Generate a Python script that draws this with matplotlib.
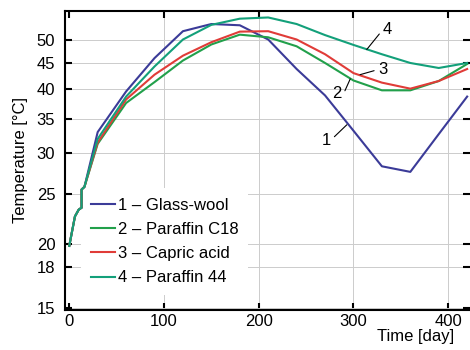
import matplotlib
matplotlib.use("Agg")
import matplotlib.pyplot as plt
from matplotlib.ticker import FixedLocator, NullLocator, FixedFormatter

plt.rcParams['font.family'] = ['Liberation Sans', 'DejaVu Sans']
plt.rcParams['font.size'] = 12

# data (day, temperature in degC)
days = [0, 6, 10, 13, 13, 16, 30, 60, 90, 120, 150, 180, 210, 240, 270, 300, 330, 360, 390, 420]
glass_wool = [19.8, 22.6, 23.3, 23.5, 25.5, 25.8, 33.0, 39.6, 46.0, 51.9, 53.6, 53.3, 50.0,
              43.8, 38.9, 33.2, 28.3, 27.6, 32.7, 38.7]
paraffin_c18 = [19.8, 22.6, 23.3, 23.5, 25.5, 25.8, 31.3, 37.6, 41.3, 45.5, 48.9, 51.1, 50.5,
                48.5, 45.0, 41.6, 39.8, 39.8, 41.5, 44.8]
capric_acid = [19.8, 22.6, 23.3, 23.5, 25.5, 25.8, 31.5, 38.2, 42.7, 46.5, 49.4, 51.8, 51.9,
               50.0, 46.8, 43.0, 41.2, 40.1, 41.5, 43.8]
paraffin_44 = [19.8, 22.6, 23.3, 23.5, 25.5, 25.8, 32.0, 38.7, 44.3, 50.0, 53.4, 54.9, 55.2,
               53.6, 51.0, 48.8, 46.8, 45.0, 44.0, 45.0]

labels = ['1 – Glass-wool', '2 – Paraffin C18', '3 – Capric acid', '4 – Paraffin 44']
colors = ['#3b3b98', '#22a04b', '#e03c38', '#13a07a']
yticks = [15, 18, 20, 25, 30, 35, 40, 45, 50]
xticks = [0, 100, 200, 300, 400]

fig = plt.figure(figsize=(4.7, 3.5), dpi=100)
ax = fig.add_axes([0.1383, 0.1157, 0.8617, 0.8537])

series = [glass_wool, paraffin_c18, capric_acid, paraffin_44]
for vals, lab, col in zip(series, labels, colors):
    ax.plot(days, vals, color=col, lw=1.5, label=lab, zorder=3)

ax.set_yscale('log')
ax.set_xlim(-4.5, 423)
ax.set_ylim(14.88, 56.9)
ax.yaxis.set_major_locator(FixedLocator(yticks))
ax.yaxis.set_major_formatter(FixedFormatter([str(t) for t in yticks]))
ax.yaxis.set_minor_locator(NullLocator())
ax.set_xticks(xticks)

ax.grid(True, color='#cccccc', lw=0.7, zorder=0)
ax.xaxis.get_gridlines()[0].set_visible(False)

ax.spines['right'].set_visible(False)
for s in ['left', 'top', 'bottom']:
    ax.spines[s].set_linewidth(1.5)
ax.tick_params(direction='in', length=5, width=1.5, top=True, right=True)
ax.tick_params(axis='y', pad=7)
ax.tick_params(axis='x', pad=3)

ax.set_ylabel('Temperature [°C]', labelpad=6)
ax.set_xlabel('Time [day]', loc='right')
ax.xaxis.set_label_coords(0.96, -0.065)

# curve labels with leader lines
notes = [('1', (293, 34.1), (271, 31.8), (1, 0.5)),
         ('2', (296.6, 41.9), (282.5, 39.2), (1, 0.2)),
         ('3', (307, 42.7), (331, 43.7), (0, 0.5)),
         ('4', (314, 47.8), (336, 52.3), (0, 0.5))]
for txt, xy, xyt, rp in notes:
    ax.annotate(txt, xy=xy, xytext=xyt, ha='center', va='center', fontsize=12,
                arrowprops=dict(arrowstyle='-', color='black', lw=0.8,
                                relpos=rp, shrinkA=1, shrinkB=0), zorder=4)

# legend box hides the grid but sits under the curves
leg = ax.legend(loc='upper left', bbox_to_anchor=(0.04, 0.407), borderaxespad=0,
                borderpad=0.6, frameon=True, fancybox=False, framealpha=1,
                edgecolor='none', handlelength=1.4, handletextpad=0.2,
                labelspacing=0.55, fontsize=12)
leg.set_zorder(2.5)

fig.savefig('out.png', dpi=100)
